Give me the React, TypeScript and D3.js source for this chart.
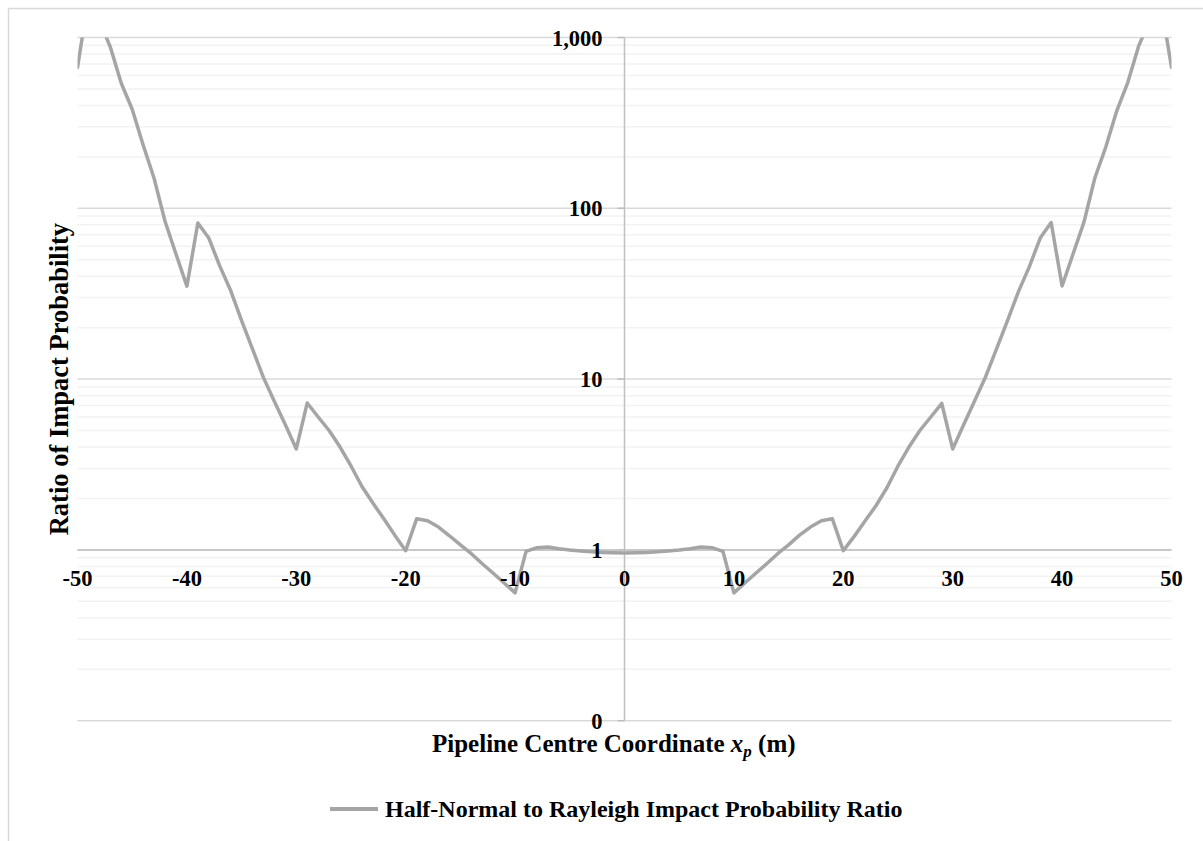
import React from "react";
import * as d3 from "d3";

const xValues: number[] = d3.range(-50, 51);
const ratioValues: number[] = [
  667, 1700, 1250, 880, 540, 380, 235, 150, 84, 54,
  35, 82, 67, 46, 33, 22, 15, 10.2, 7.4, 5.4,
  3.9, 7.25, 6.0, 5.0, 4.0, 3.1, 2.35, 1.88, 1.52, 1.22,
  0.99, 1.52, 1.48, 1.36, 1.21, 1.07, 0.95, 0.83, 0.73, 0.64,
  0.56, 0.98, 1.03, 1.04, 1.015, 0.998, 0.985, 0.975, 0.967, 0.962,
  0.96,
  0.962, 0.967, 0.975, 0.985, 0.998, 1.015, 1.04, 1.03, 0.98,
  0.56, 0.64, 0.73, 0.83, 0.95, 1.07, 1.22, 1.36, 1.48, 1.52,
  0.99, 1.2, 1.48, 1.82, 2.32, 3.1, 4.0, 5.0, 6.0, 7.2,
  3.9, 5.4, 7.45, 10.3, 15, 21.9, 32.4, 45.4, 67, 82.5,
  35.1, 54, 83, 151, 229, 372, 545, 893, 1250, 1650,
  667,
];
const xTicks: number[] = [-50, -40, -30, -20, -10, 0, 10, 20, 30, 40, 50];
const yMajorTicks: number[] = [0.1, 1, 10, 100, 1000];
const yTickLabels: string[] = ["0", "1", "10", "100", "1,000"];
const seriesName = "Half-Normal to Rayleigh Impact Probability Ratio";
const xTitle = "Pipeline Centre Coordinate ";
const yTitle = "Ratio of Impact Probability";

const FONT = "'Liberation Serif', 'Times New Roman', serif";
const LINE_COLOR = "#a5a5a5";

export default function App() {
  const W = 1203;
  const H = 841;
  const left = 77.5;
  const right = 1171.5;
  const top = 37.5;
  const bottom = 720.7;

  const x = d3.scaleLinear().domain([-50, 50]).range([left, right]);
  const y = d3.scaleLog().domain([0.1, 1000]).range([bottom, top]);

  const minor: number[] = [];
  [0.1, 1, 10, 100].forEach((d) => {
    for (let k = 2; k <= 9; k++) minor.push(d * k);
  });

  const data = xValues.map((xv, i) => ({ x: xv, v: ratioValues[i] }));
  const line = d3
    .line<{ x: number; v: number }>()
    .x((d) => x(d.x))
    .y((d) => y(d.v));

  const x0 = x(0);
  const y1 = y(1);

  return (
    <svg
      width={W}
      height={H}
      style={{ position: "absolute", left: 0, top: 0, background: "#fff" }}
    >
      <rect x={8.5} y={8.5} width={1300} height={1000} fill="#fff" stroke="#d9d9d9" strokeWidth={1.5} />
      <defs>
        <clipPath id="plot">
          <rect x={left} y={top} width={right - left} height={bottom - top} />
        </clipPath>
      </defs>
      {minor.map((m) => (
        <line key={"m" + m} x1={left} x2={right} y1={y(m)} y2={y(m)} stroke="#f2f2f2" strokeWidth={1.5} />
      ))}
      {yMajorTicks.map((t) => (
        <line key={"M" + t} x1={left} x2={right} y1={y(t)} y2={y(t)} stroke="#d9d9d9" strokeWidth={1.5} />
      ))}
      {/* y axis */}
      <line x1={x0} x2={x0} y1={top} y2={bottom} stroke="#bfbfbf" strokeWidth={1.5} />
      {yMajorTicks.map((t) => (
        <line key={"t" + t} x1={x0 - 7} x2={x0} y1={y(t)} y2={y(t)} stroke="#bfbfbf" strokeWidth={1.5} />
      ))}
      {/* x axis at y=1 */}
      <line x1={left} x2={right} y1={y1} y2={y1} stroke="#bfbfbf" strokeWidth={1.5} />
      <path
        d={line(data) || ""}
        fill="none"
        stroke={LINE_COLOR}
        strokeWidth={3.5}
        strokeLinejoin="round"
        strokeLinecap="round"
        clipPath="url(#plot)"
      />
      {yMajorTicks.map((t, i) => (
        <text
          key={"yl" + t}
          x={602.5}
          y={y(t)}
          dy="0.36em"
          textAnchor="end"
          fontFamily={FONT}
          fontWeight="bold"
          fontSize={22.5}
          fill="#000"
        >
          {yTickLabels[i]}
        </text>
      ))}
      {xTicks.map((t) => (
        <text
          key={"xl" + t}
          x={x(t)}
          y={586}
          textAnchor="middle"
          fontFamily={FONT}
          fontWeight="bold"
          fontSize={22.5}
          fill="#000"
        >
          {t}
        </text>
      ))}
      <text
        x={68}
        y={(top + bottom) / 2}
        transform={`rotate(-90, 68, ${(top + bottom) / 2})`}
        textAnchor="middle"
        fontFamily={FONT}
        fontWeight="bold"
        fontSize={26.5}
        fill="#000"
      >
        {yTitle}
      </text>
      <text x={432} y={752} fontFamily={FONT} fontWeight="bold" fontSize={25} fill="#000">
        {xTitle}
        <tspan fontStyle="italic">x</tspan>
        <tspan fontStyle="italic" fontSize={17} dy={5}>p</tspan>
        <tspan dy={-5}> (m)</tspan>
      </text>
      <line x1={330} x2={378} y1={809} y2={809} stroke={LINE_COLOR} strokeWidth={4} />
      <text x={385} y={817} fontFamily={FONT} fontWeight="bold" fontSize={24} fill="#000">
        {seriesName}
      </text>
    </svg>
  );
}
